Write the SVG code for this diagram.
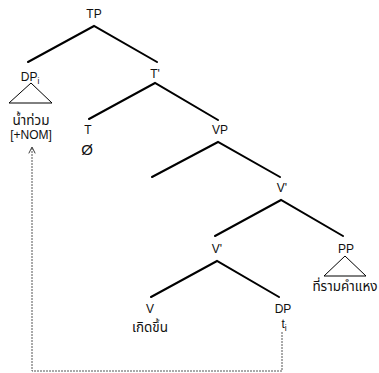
<svg xmlns="http://www.w3.org/2000/svg" width="379" height="373" viewBox="0 0 379 373">
<defs>
<style>
text{font-family:"Liberation Sans",Arial,"Noto Sans Thai",sans-serif;font-size:12px;fill:#111;text-anchor:middle}
.sub{font-size:8.5px}
.th{font-size:13.5px}
.br{stroke:#000;stroke-width:2;fill:none;stroke-linecap:round}
.tri{stroke:#000;stroke-width:1;fill:none}
.dash{stroke:#555;stroke-width:1;fill:none;stroke-dasharray:2,1}
</style>
<marker id="ah" viewBox="0 0 10 10" refX="9" refY="5" markerWidth="8" markerHeight="8" orient="auto" markerUnits="userSpaceOnUse">
<path d="M1,1 L9,5 L1,9" stroke="#333" stroke-width="1.2" fill="none"/>
</marker>
</defs>
<rect width="379" height="373" fill="#fff"/>
<g id="connectors">
<path class="br" d="M28,62 L94,26 L157,62"/>
<path class="br" d="M89,119 L155,83 L218,120"/>
<path class="br" d="M152,177 L218,142 L280,177"/>
<path class="br" d="M215,236 L281,200 L343,236"/>
<path class="br" d="M151,297 L217,261 L279,297"/>
<path class="dash" d="M282,332 L282,371 L32,371 L32,147" marker-end="url(#ah)"/>
</g>
<g id="TP"><text x="94" y="18">TP</text></g>
<g id="DPi">
<text x="30" y="81">DP<tspan class="sub" dy="3">i</tspan></text>
<path class="tri" d="M31,83 L9,103 L52,103 Z"/>
<text class="th" x="31" y="125">น้ำท่วม</text>
<text x="31" y="139">[+NOM]</text>
</g>
<g id="Tbar"><text x="155" y="78">T'</text></g>
<g id="T"><text x="88" y="134">T</text><text x="87" y="155" style="font-size:15px">Ø</text></g>
<g id="VP"><text x="220" y="134">VP</text></g>
<g id="Vbar1"><text x="282" y="192">V'</text></g>
<g id="Vbar2"><text x="217" y="253">V'</text></g>
<g id="PP">
<text x="346" y="253">PP</text>
<path class="tri" d="M345,256 L324,276 L366,276 Z"/>
<text class="th" x="345" y="291">ที่รามคำแหง</text>
</g>
<g id="V"><text x="150" y="313">V</text><text class="th" x="150" y="332">เกิดขึ้น</text></g>
<g id="DPt"><text x="283" y="313">DP</text><text x="284" y="328">t<tspan class="sub" dy="3">i</tspan></text></g>
</svg>
